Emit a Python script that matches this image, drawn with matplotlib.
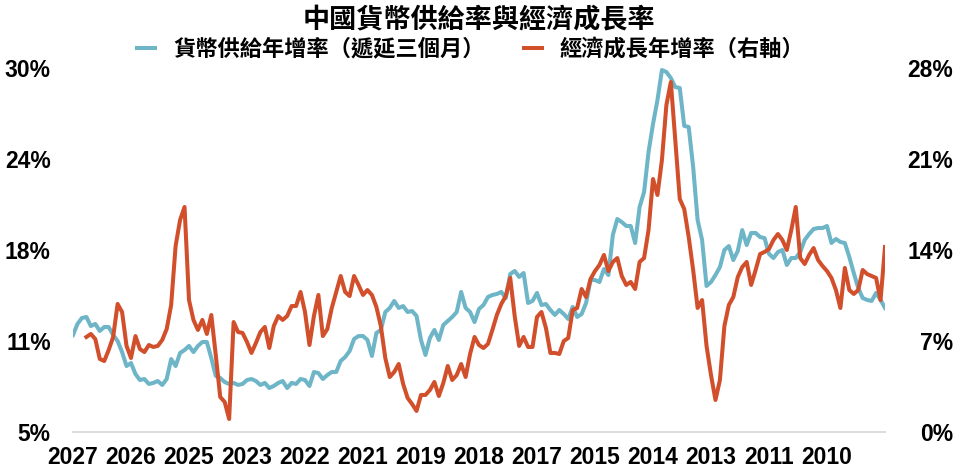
import numpy as np
import matplotlib
matplotlib.use('Agg')
import matplotlib.pyplot as plt

plt.rcParams['font.family'] = ['Liberation Sans', 'Noto Sans CJK TC', 'DejaVu Sans']

# %% données (mensuel, ordre d'affichage)
m2_yoy = [11.66, 12.42, 12.83, 12.90, 12.28, 12.42, 11.94, 12.21, 12.21, 11.66,
          11.25, 10.49, 9.53, 9.74, 8.98, 8.57, 8.64, 8.30, 8.37, 8.50,
          8.23, 8.64, 10.01, 9.53, 10.43, 10.63, 10.91, 10.49, 10.91, 11.18,
          11.18, 10.08, 8.85, 8.71, 8.43, 8.30, 8.37, 8.23, 8.30, 8.57,
          8.64, 8.50, 8.23, 8.37, 8.02, 8.16, 8.37, 8.50, 8.02, 8.37,
          8.30, 8.64, 8.57, 8.16, 9.12, 9.05, 8.64, 8.91, 9.12, 9.12,
          9.88, 10.15, 10.56, 11.39, 11.59, 11.59, 11.32, 10.22, 11.80, 12.01,
          13.24, 13.52, 14.00, 13.52, 13.65, 13.24, 13.31, 12.97, 11.32, 10.29,
          11.46, 12.01, 11.32, 12.35, 12.62, 12.90, 13.24, 14.62, 13.52, 13.24,
          12.55, 13.45, 13.72, 14.27, 14.41, 14.48, 14.62, 14.20, 15.85, 16.06,
          15.65, 15.92, 13.86, 14.00, 14.55, 13.72, 13.79, 13.38, 13.04, 13.38,
          13.10, 12.76, 13.59, 12.90, 13.10, 13.86, 15.44, 15.44, 15.30, 16.19,
          15.78, 18.53, 19.63, 19.42, 19.15, 19.15, 17.98, 20.45, 21.48, 24.23,
          26.15, 27.80, 29.86, 29.73, 29.31, 28.69, 28.63, 26.02, 25.95, 23.20,
          19.56, 18.19, 15.03, 15.30, 15.78, 16.33, 17.50, 17.77, 16.81, 17.43,
          18.87, 17.84, 18.67, 18.67, 18.39, 18.32, 17.23, 16.95, 17.36, 17.50,
          16.47, 16.95, 16.95, 17.36, 18.19, 18.60, 18.94, 19.01, 19.01, 19.15,
          17.98, 18.26, 18.05, 17.98, 17.02, 15.92, 14.89, 14.20, 14.07, 14.00,
          14.55, 14.07, 13.52]

gdp_yoy = [np.nan, np.nan, np.nan, 7.31, 7.54, 7.15, 5.62, 5.46, 6.31, 7.31,
           9.85, 9.23, 6.62, 5.69, 7.38, 6.38, 6.15, 6.69, 6.54, 6.62,
           7.08, 7.92, 9.77, 14.31, 16.31, 17.31, 10.15, 8.62, 7.85, 8.62,
           7.54, 9.00, 5.92, 2.69, 2.31, 1.00, 8.46, 7.69, 7.62, 6.92,
           6.08, 6.85, 7.69, 8.08, 6.46, 8.15, 8.92, 8.62, 8.92, 9.69,
           9.69, 10.77, 9.23, 6.69, 8.92, 10.54, 7.38, 7.92, 9.54, 10.77,
           12.00, 10.77, 10.46, 12.00, 11.31, 10.54, 10.92, 10.54, 9.62, 8.15,
           5.69, 4.23, 4.62, 5.23, 3.69, 2.62, 2.15, 1.62, 2.85, 2.85,
           3.23, 3.85, 2.77, 3.77, 5.08, 4.00, 4.38, 5.23, 4.23, 6.00,
           7.31, 6.69, 6.46, 6.77, 7.85, 9.00, 9.85, 10.46, 11.85, 8.92,
           6.62, 7.31, 6.54, 6.54, 8.85, 9.23, 8.00, 6.08, 6.08, 6.00,
           7.00, 7.23, 9.38, 9.54, 11.00, 10.38, 11.77, 12.38, 12.85, 13.62,
           12.38, 13.08, 13.38, 12.00, 11.31, 11.54, 11.00, 13.08, 13.38, 15.54,
           19.46, 18.23, 20.92, 25.15, 26.92, 22.46, 17.92, 17.15, 15.00, 12.46,
           9.54, 10.15, 6.62, 4.38, 2.46, 4.00, 8.15, 9.77, 10.38, 11.92,
           12.69, 13.08, 11.31, 12.46, 13.69, 13.85, 14.08, 14.77, 15.23, 14.77,
           14.00, 15.54, 17.31, 13.38, 12.92, 13.62, 14.15, 13.23, 12.77, 12.38,
           11.85, 10.92, 9.54, 12.62, 10.92, 10.62, 10.92, 12.46, 12.15, 12.00,
           11.85, 10.15, 14.23]

year_labels = ['2027', '2026', '2025', '2023', '2022', '2021', '2019',
               '2018', '2017', '2015', '2014', '2013', '2011', '2010']
left_ticks = [5, 11.25, 17.5, 23.75, 30]
left_labels = ['5%', '11%', '18%', '24%', '30%']
right_ticks = [0, 7, 14, 21, 28]
right_labels = ['0%', '7%', '14%', '21%', '28%']

title = '中國貨幣供給率與經濟成長率'
name_m2 = '貨幣供給年增率（遞延三個月）'
name_gdp = '經濟成長年增率（右軸）'

c_blue = '#6db5c7'
c_red = '#d24f2c'

# %%
x = np.arange(len(m2_yoy))
step = 13

fig = plt.figure(figsize=(9.6, 4.75), dpi=100)
ax = fig.add_axes([73/960, 43/475, 812/960, 364/475])
ax2 = ax.twinx()

l1, = ax.plot(x, m2_yoy, color=c_blue, lw=2.9, solid_joinstyle='round', label=name_m2)
l2, = ax2.plot(x, gdp_yoy, color=c_red, lw=2.9, solid_joinstyle='round', label=name_gdp)

ax.set_xlim(0, len(x) - 1)
ax.set_ylim(5, 30)
ax2.set_ylim(0, 28)

ax.set_xticks(x[::step][:len(year_labels)])
ax.set_xticklabels(year_labels)
ax.set_yticks(left_ticks)
ax.set_yticklabels(left_labels)
ax2.set_yticks(right_ticks)
ax2.set_yticklabels(right_labels)

for a in (ax, ax2):
    for s in a.spines.values():
        s.set_visible(False)
ax.spines['bottom'].set_visible(True)
ax.spines['bottom'].set_color('#d9d9d9')
ax.spines['bottom'].set_linewidth(1.3)

ax.tick_params(axis='x', length=0, pad=10, labelsize=16.5)
ax.tick_params(axis='y', length=0, pad=16, labelsize=16.5)
ax2.tick_params(axis='y', length=0, pad=49, labelsize=16.5)
for t in ax.get_xticklabels() + ax.get_yticklabels() + ax2.get_yticklabels():
    t.set_fontweight('bold')
for t in ax2.get_yticklabels():
    t.set_ha('right')

fig.text(0.499, 1 - 20/475, title, ha='center', va='center', fontsize=19.5,
         fontweight='bold', family=['Noto Sans CJK TC', 'DejaVu Sans'])
fig.legend(handles=[l1, l2], loc='center', bbox_to_anchor=(471/960, 1 - 49/475),
           ncol=2, frameon=False, handlelength=0.8, handletextpad=0.8,
           columnspacing=1.8, borderaxespad=0,
           prop={'family': ['Noto Sans CJK TC', 'DejaVu Sans'], 'size': 16, 'weight': 'bold'})

plt.savefig('out.png', dpi=100)
